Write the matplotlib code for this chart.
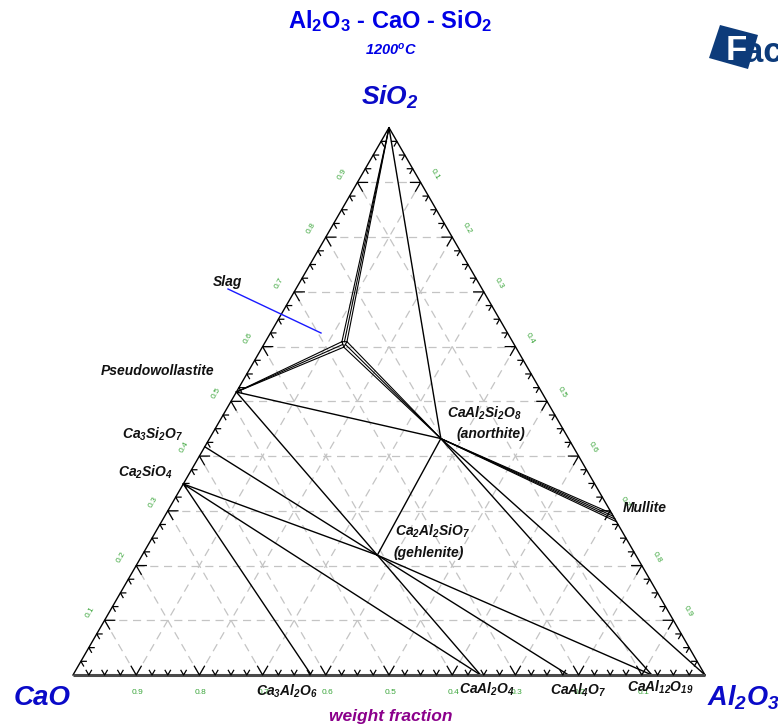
import numpy as np
import matplotlib
matplotlib.use("Agg")
import matplotlib.pyplot as plt
from matplotlib.patches import Polygon

plt.rcParams["font.family"] = ["Liberation Sans", "DejaVu Sans"]
plt.rcParams["mathtext.default"] = "regular"

# ---- compositions, weight fraction (CaO, Al2O3, SiO2) ----
CAO = (1.0, 0.0, 0.0)
AL2O3 = (0.0, 1.0, 0.0)
SIO2 = (0.0, 0.0, 1.0)
PSEUDOWOLLASTITE = (0.483, 0.0, 0.517)
CA3SI2O7 = (0.583, 0.0, 0.417)
CA2SIO4 = (0.651, 0.0, 0.349)
CA3AL2O6 = (0.623, 0.377, 0.0)
CAAL2O4 = (0.355, 0.645, 0.0)
CAAL4O7 = (0.216, 0.784, 0.0)
CAAL12O19 = (0.084, 0.916, 0.0)
ANORTHITE = (0.202, 0.366, 0.432)
GEHLENITE = (0.409, 0.372, 0.219)

# mullite solid-solution range (Al2O3 fraction on the Al2O3-SiO2 join)
MULLITE_AL2O3 = [0.705, 0.710, 0.715, 0.720]

# corners of the small liquid (slag) field
SLAG_CAO = [0.270, 0.272, 0.262]
SLAG_AL2O3 = [0.121, 0.129, 0.129]
SLAG_SIO2 = [0.609, 0.599, 0.609]

# two-phase tie lines
TIE_LINES = [
    (SIO2, ANORTHITE),
    (PSEUDOWOLLASTITE, ANORTHITE),
    (PSEUDOWOLLASTITE, GEHLENITE),
    (CA3SI2O7, GEHLENITE),
    (CA2SIO4, GEHLENITE),
    (CA2SIO4, CA3AL2O6),
    (CA2SIO4, CAAL2O4),
    (GEHLENITE, ANORTHITE),
    (GEHLENITE, CAAL2O4),
    (GEHLENITE, CAAL4O7),
    (GEHLENITE, CAAL12O19),
    (ANORTHITE, CAAL12O19),
    (ANORTHITE, AL2O3),
]

TICK_VALUES = [0.1, 0.2, 0.3, 0.4, 0.5, 0.6, 0.7, 0.8, 0.9]
TICK_LABELS = ["0.1", "0.2", "0.3", "0.4", "0.5", "0.6", "0.7", "0.8", "0.9"]

H = np.sqrt(3) / 2


def tern(comp):
    c, a, s = comp
    return a + s / 2.0, s * H


def px(x, y):
    """figure pixel -> triangle coordinates (side = 632 px)"""
    return (x - 73) / 632.0, (675 - y) / 632.0


fig = plt.figure(figsize=(7.78, 7.28), dpi=100)
ax = fig.add_axes([0, 0, 1, 1])
ax.set_xlim(-73 / 632.0, 705 / 632.0)
ax.set_ylim(-53 / 632.0, 675 / 632.0)
ax.set_aspect("equal")
ax.axis("off")

# ---- dashed grid ----
grid_kw = dict(color="#c4c4c4", lw=0.9, dashes=(6.5, 4.5), zorder=1)
for v in TICK_VALUES:
    for p, q in [((1 - v, 0, v), (0, 1 - v, v)),      # constant SiO2
                 ((v, 1 - v, 0), (v, 0, 1 - v)),      # constant CaO
                 ((1 - v, v, 0), (0, v, 1 - v))]:     # constant Al2O3
        x0, y0 = tern(p)
        x1, y1 = tern(q)
        ax.plot([x0, x1], [y0, y1], **grid_kw)

# ---- triangle frame ----
xl, yl = zip(tern(CAO), tern(SIO2), tern(AL2O3))
ax.plot(xl, yl, color="black", lw=1.0, zorder=3, solid_joinstyle="miter")
xb, yb = zip(tern(CAO), tern(AL2O3))
ax.plot(xb, yb, color="#4a4a4a", lw=2.2, zorder=3, solid_capstyle="butt")

# ---- chevron ticks ----
c60 = 0.5
s60 = H
edges = [
    (lambda t: (1 - t, t, 0.0), [(c60, s60), (-c60, s60)]),        # bottom
    (lambda t: (1 - t, 0.0, t), [(1.0, 0.0), (c60, -s60)]),        # left
    (lambda t: (0.0, 1 - t, t), [(-1.0, 0.0), (-c60, -s60)]),      # right
]
for pos, arms in edges:
    for k in range(1, 40):
        t = k * 0.025
        x0, y0 = tern(pos(t))
        L = 0.016 if k % 4 == 0 else 0.0085
        (dx1, dy1), (dx2, dy2) = arms
        ax.plot([x0 + dx1 * L, x0, x0 + dx2 * L],
                [y0 + dy1 * L, y0, y0 + dy2 * L],
                color="black", lw=0.9, zorder=4)

# ---- tick labels ----
green = "#3aa53a"
lab_kw = dict(color=green, fontsize=6, ha="center", va="center", zorder=5)
d = 17 / 632.0
for v, lab in zip(TICK_VALUES, TICK_LABELS):
    # bottom: CaO fraction
    x0, y0 = tern((v, 1 - v, 0))
    ax.text(x0 + 0.002, y0 - d, lab, **lab_kw)
    # left: SiO2 fraction
    x0, y0 = tern((1 - v, 0, v))
    ax.text(x0 - d * H, y0 + d * 0.5, lab, rotation=60, **lab_kw)
    # right: Al2O3 fraction
    x0, y0 = tern((0, v, 1 - v))
    ax.text(x0 + d * H, y0 + d * 0.5, lab, rotation=-60, **lab_kw)

# ---- tie lines ----
tie_kw = dict(color="black", lw=1.0, zorder=2)
for p, q in TIE_LINES:
    (x0, y0), (x1, y1) = tern(p), tern(q)
    ax.plot([x0, x1], [y0, y1], **tie_kw)

# anorthite + mullite field
for a in MULLITE_AL2O3:
    (x0, y0), (x1, y1) = tern(ANORTHITE), tern((0.0, a, 1 - a))
    ax.plot([x0, x1], [y0, y1], color="black", lw=0.8, zorder=2)

# liquid field and the fans of tie lines to it
slag = [(c, a, s) for c, a, s in zip(SLAG_CAO, SLAG_AL2O3, SLAG_SIO2)]
sx, sy = zip(*[tern(p) for p in slag + [slag[0]]])
ax.plot(sx, sy, color="black", lw=0.8, zorder=2)


def mid(p, q):
    return tuple((pi + qi) / 2 for pi, qi in zip(p, q))


fans = [
    (SIO2, [slag[0], mid(slag[0], slag[2]), slag[2]]),
    (PSEUDOWOLLASTITE, [slag[0], mid(slag[0], slag[1]), slag[1]]),
    (ANORTHITE, [slag[1], mid(slag[1], slag[2]), slag[2]]),
]
for src, targets in fans:
    x0, y0 = tern(src)
    for tg in targets:
        x1, y1 = tern(tg)
        ax.plot([x0, x1], [y0, y1], color="black", lw=0.8, zorder=2)

# ---- phase labels ----
lbl = dict(fontsize=10, fontweight="bold", fontstyle="italic",
           color="#111111", ha="center", va="center", zorder=6)
ax.text(*px(228, 282), "Slag", **lbl)
ax.plot(*zip(px(228, 289), px(321, 333)), color="#1a1aff", lw=1.0, zorder=6)
ax.text(*px(158, 371), "Pseudowollastite", **lbl)
ax.text(*px(153, 434), r"Ca$_3$Si$_2$O$_7$", **lbl)
ax.text(*px(145, 472), r"Ca$_2$SiO$_4$", **lbl)
ax.text(*px(484, 413), r"CaAl$_2$Si$_2$O$_8$", **lbl)
ax.text(*px(491, 434), "(anorthite)", **lbl)
ax.text(*px(433, 531), r"Ca$_2$Al$_2$SiO$_7$", **lbl)
ax.text(*px(429, 553), "(gehlenite)", **lbl)
ax.text(*px(645, 508), "Mullite", **lbl)
ax.text(*px(287, 691), r"Ca$_3$Al$_2$O$_6$", **lbl)
ax.text(*px(487, 689), r"CaAl$_2$O$_4$", **lbl)
ax.text(*px(578, 690), r"CaAl$_4$O$_7$", **lbl)
ax.text(*px(660, 687), r"CaAl$_{12}$O$_{19}$", **lbl)

# ---- titles and component names ----
blue = "#0000e6"
dark_blue = "#0a0ac8"
fig.text(390 / 778, 1 - 21 / 728, r"Al$_2$O$_3$ - CaO - SiO$_2$", color=blue,
         fontsize=17, fontweight="bold", ha="center", va="center")
fig.text(391 / 778, 1 - 50 / 728, r"1200$^o$C", color=blue,
         fontsize=10.5, fontweight="bold", fontstyle="italic", ha="center", va="center")
fig.text(390 / 778, 1 - 97 / 728, r"SiO$_2$", color=dark_blue,
         fontsize=19, fontweight="bold", fontstyle="italic", ha="center", va="center")
fig.text(42 / 778, 1 - 698 / 728, "CaO", color=dark_blue,
         fontsize=20, fontweight="bold", fontstyle="italic", ha="center", va="center")
fig.text(707 / 778, 1 - 698 / 728, r"Al$_2$O$_3$", color=dark_blue,
         fontsize=19.5, fontweight="bold", fontstyle="italic", ha="left", va="center")
fig.text(391 / 778, 1 - 716 / 728, "weight fraction", color="#8b008b",
         fontsize=12.5, fontweight="bold", fontstyle="italic", ha="center", va="center")

# ---- corner logo ----
logo_blue = "#0d3b7a"
corners = [(720, 25), (758, 35), (748, 69), (709, 58)]
fig.patches.append(Polygon([(x / 778, 1 - y / 728) for x, y in corners],
                           closed=True, transform=fig.transFigure,
                           facecolor=logo_blue, edgecolor="none"))
fig.text(726 / 778, 1 - 51 / 728, "F", color="white", fontsize=25,
         fontweight="bold", ha="left", va="center")
fig.text(744 / 778, 1 - 53 / 728, "ac", color=logo_blue, fontsize=25,
         fontweight="bold", ha="left", va="center")

fig.savefig("out.png", dpi=100)
